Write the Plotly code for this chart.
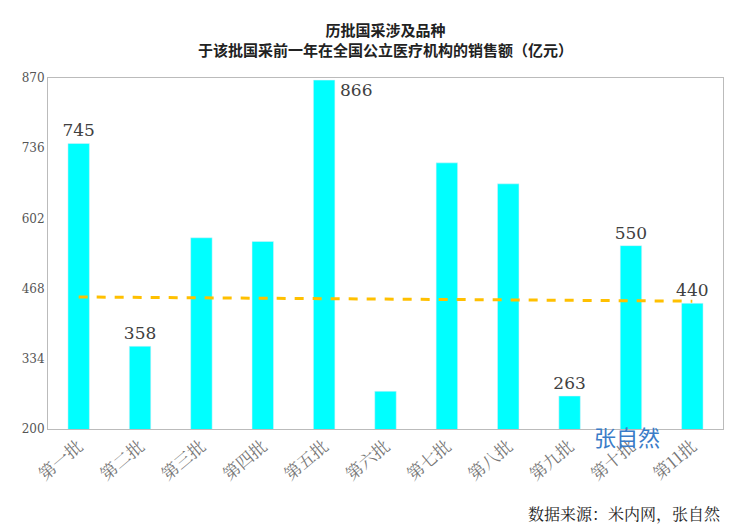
import plotly.graph_objects as go

cats = ["第一批","第二批","第三批","第四批","第五批","第六批","第七批","第八批","第九批","第十批","第11批"]
vals = [745, 358, 565, 558, 866, 272, 708, 668, 263, 550, 440]
labels = ["745","358","","","","","","","263","550","440"]
trend = [452, 444]
ticks = [200, 334, 468, 602, 736, 870]

fig = go.Figure()
fig.add_bar(x=cats, y=vals, marker_color="#00FFFF", width=0.35,
            text=labels, textposition="outside", cliponaxis=False, constraintext="none",
            textfont=dict(family="DejaVu Serif", size=17, color="#404040"))
fig.add_scatter(x=[cats[0], cats[-1]], y=trend, mode="lines",
                line=dict(color="#FFC000", width=3, dash="dash"))
fig.add_annotation(x=cats[4], y=vals[4], text=str(vals[4]), showarrow=False, xanchor="left",
                   yanchor="top", xshift=14, yshift=2,
                   font=dict(family="DejaVu Serif", size=17, color="#404040"))
fig.update_layout(
    width=735, height=525, showlegend=False, plot_bgcolor="white", paper_bgcolor="white",
    margin=dict(l=40, r=20, t=70, b=104),
    font=dict(family="Noto Sans CJK SC"),
)
tf = dict(family="Noto Sans CJK SC", size=15, color="#222")
fig.add_annotation(text="<b>历批国采涉及品种</b><br><b>于该批国采前一年在全国公立医疗机构的销售额（亿元）</b>",
                   xref="paper", yref="paper", x=0.5, y=1.0, yanchor="bottom", yshift=16,
                   showarrow=False, font=tf)
fig.update_yaxes(range=[200, 870], tickvals=ticks, showgrid=False, showline=True, linecolor="#bbb",
                 mirror=True, tickfont=dict(family="DejaVu Serif", size=12, color="#555"))
fig.update_xaxes(tickangle=-40, showline=True, linecolor="#bbb", mirror=True,
                 tickfont=dict(family="Noto Serif CJK SC, Noto Sans CJK SC", size=17, color="#777"))
fig.add_annotation(text="张自然", xref="paper", yref="paper", x=0.91, y=-0.07, showarrow=False,
                   font=dict(size=22, color="#3A7CC8"))
fig.add_annotation(text="数据来源：米内网，张自然", xref="paper", yref="paper", x=1.0, y=-0.24,
                   xanchor="right", yanchor="middle", showarrow=False,
                   font=dict(family="Noto Serif CJK SC, Noto Sans CJK SC", size=16, color="#222"))
fig.write_html("out.html")
